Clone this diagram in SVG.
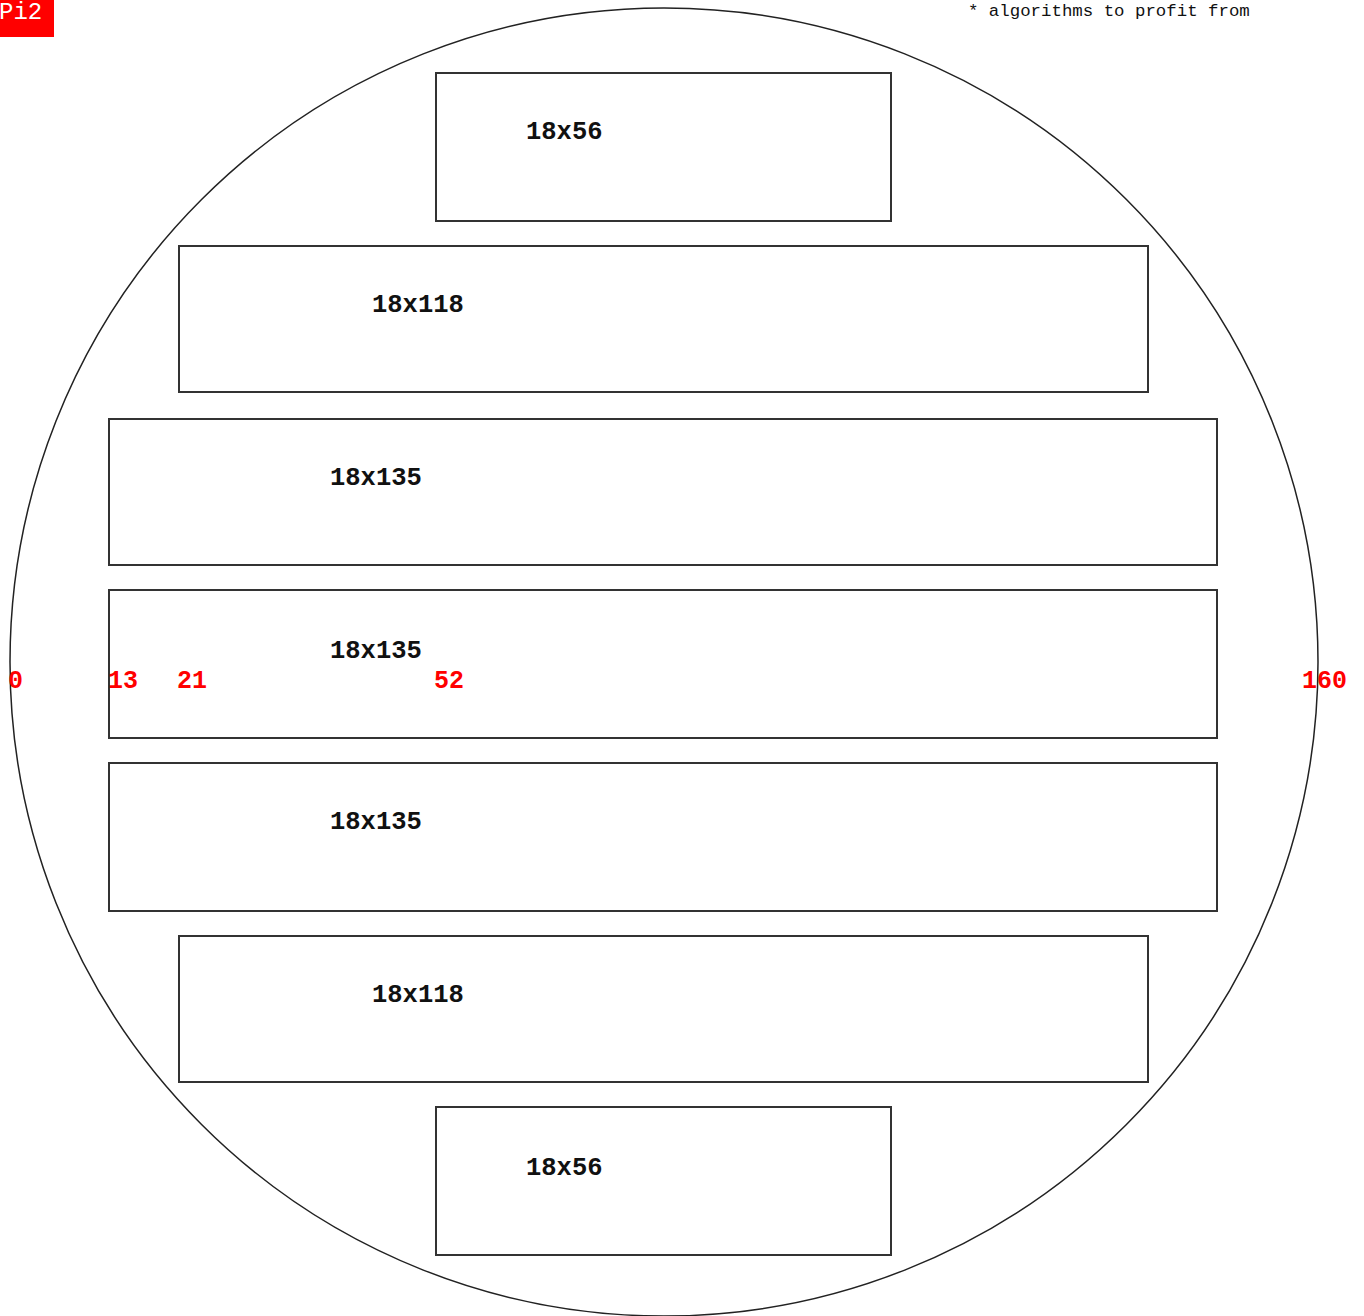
<svg xmlns="http://www.w3.org/2000/svg" width="1364" height="1316" viewBox="0 0 1364 1316">
  <style>
    .wafer { fill: none; stroke: #222; stroke-width: 1.5; }
    .die { fill: #fff; stroke: #333; stroke-width: 2; }
    .lbl { font-family: "Liberation Mono", "DejaVu Sans Mono", monospace; font-size: 25.5px; font-weight: bold; fill: #111; }
    .tick { font-family: "Liberation Mono", "DejaVu Sans Mono", monospace; font-size: 25px; font-weight: bold; fill: #ff0000; }
    .note { font-family: "Liberation Mono", "DejaVu Sans Mono", monospace; font-size: 17.4px; fill: #111; }
  </style>
  <rect width="1364" height="1316" fill="#fff"/>

  <!-- wafer outline -->
  <circle class="wafer" cx="664" cy="662" r="654"/>

  <!-- dies -->
  <g id="die1"><rect class="die" x="436" y="73" width="455" height="148"/><text class="lbl" x="526" y="139">18x56</text></g>
  <g id="die2"><rect class="die" x="179" y="246" width="969" height="146"/><text class="lbl" x="372" y="312">18x118</text></g>
  <g id="die3"><rect class="die" x="109" y="419" width="1108" height="146"/><text class="lbl" x="330" y="485">18x135</text></g>
  <g id="die4"><rect class="die" x="109" y="590" width="1108" height="148"/><text class="lbl" x="330" y="658">18x135</text></g>
  <g id="die5"><rect class="die" x="109" y="763" width="1108" height="148"/><text class="lbl" x="330" y="829">18x135</text></g>
  <g id="die6"><rect class="die" x="179" y="936" width="969" height="146"/><text class="lbl" x="372" y="1002">18x118</text></g>
  <g id="die7"><rect class="die" x="436" y="1107" width="455" height="148"/><text class="lbl" x="526" y="1175">18x56</text></g>

  <!-- axis ticks -->
  <g id="ticks">
    <text class="tick" x="8" y="688">0</text>
    <text class="tick" x="108" y="688">13</text>
    <text class="tick" x="177" y="688">21</text>
    <text class="tick" x="434" y="688">52</text>
    <text class="tick" x="1302" y="688">160</text>
  </g>

  <!-- title badge -->
  <g id="badge">
    <rect x="0" y="0" width="54" height="37" fill="#ff0000"/>
    <text x="-1" y="19" font-family="Liberation Mono, DejaVu Sans Mono, monospace" font-size="24" fill="#fff">Pi2</text>
  </g>
  <text id="note" class="note" x="968" y="16">* algorithms to profit from</text>
</svg>
